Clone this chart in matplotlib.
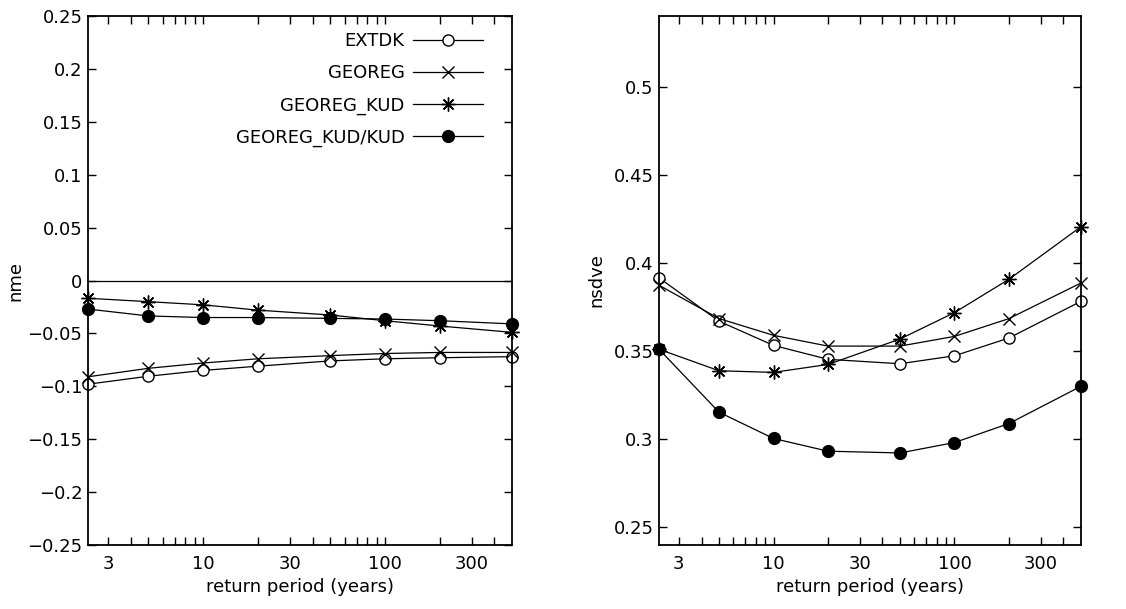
import numpy as np
import matplotlib
matplotlib.use('Agg')
import matplotlib.pyplot as plt
from matplotlib.ticker import FixedLocator, FixedFormatter, NullFormatter

plt.rcParams['font.family'] = ['DejaVu Sans']
plt.rcParams['font.size'] = 13

# Периоды повторяемости (годы)
T = [2.33, 5, 10, 20, 50, 100, 200, 500]

# nme (левая панель)
nme_extdk = [-0.098, -0.0905, -0.085, -0.081, -0.076, -0.074, -0.073, -0.072]
nme_georeg = [-0.091, -0.083, -0.078, -0.074, -0.071, -0.069, -0.068, -0.068]
nme_georeg_kud = [-0.0168, -0.020, -0.023, -0.028, -0.0326, -0.038, -0.043, -0.049]
nme_georeg_kud_kud = [-0.027, -0.0335, -0.035, -0.035, -0.0358, -0.0364, -0.038, -0.041]

# nsdve (правая панель)
nsdve_extdk = [0.3915, 0.3669, 0.3532, 0.3453, 0.3428, 0.3473, 0.3574, 0.3782]
nsdve_georeg = [0.3873, 0.3684, 0.3589, 0.3528, 0.3528, 0.3583, 0.3684, 0.3886]
nsdve_georeg_kud = [0.351, 0.3388, 0.3379, 0.3424, 0.3568, 0.3718, 0.3907, 0.4205]
nsdve_georeg_kud_kud = [0.351, 0.3153, 0.3004, 0.2932, 0.2922, 0.2981, 0.3089, 0.330]

labels = ['EXTDK', 'GEOREG', 'GEOREG_KUD', 'GEOREG_KUD/KUD']
styles = [
    dict(marker='o', markerfacecolor='white', markersize=8, markeredgewidth=1.0),
    dict(marker='x', markersize=8, markeredgewidth=1.0),
    dict(marker=(8, 2, 0), markersize=10, markeredgewidth=1.0),
    dict(marker='o', markerfacecolor='black', markersize=8.5),
]

xticks_major = [3, 10, 30, 100, 300]
xticks_minor = [4, 5, 6, 7, 8, 9, 20, 40, 50, 60, 70, 80, 90, 200, 400]

fig = plt.figure(figsize=(11.26, 6.09), dpi=100)
ax1 = fig.add_axes([0.0782, 0.1051, 0.3765, 0.8686])
ax2 = fig.add_axes([0.5853, 0.1051, 0.3747, 0.8686])


def setup_axes(ax):
    ax.set_xscale('log')
    ax.set_xlim(2.33, 500)
    ax.xaxis.set_major_locator(FixedLocator(xticks_major))
    ax.xaxis.set_major_formatter(FixedFormatter([str(v) for v in xticks_major]))
    ax.xaxis.set_minor_locator(FixedLocator(xticks_minor))
    ax.xaxis.set_minor_formatter(NullFormatter())
    ax.tick_params(which='both', direction='in', top=True, right=True,
                   length=6, width=1.0, labelsize=13)
    ax.tick_params(axis='y', pad=4)
    ax.tick_params(axis='x', pad=7)
    for sp in ax.spines.values():
        sp.set_linewidth(1.3)
    ax.set_xlabel('return period (years)', fontsize=13, labelpad=4)


series1 = [nme_extdk, nme_georeg, nme_georeg_kud, nme_georeg_kud_kud]
series2 = [nsdve_extdk, nsdve_georeg, nsdve_georeg_kud, nsdve_georeg_kud_kud]

for vals, lab, st in zip(series1, labels, styles):
    ax1.plot(T, vals, color='black', linewidth=0.9, label=lab, clip_on=False,
             markeredgecolor='black', **st)
for vals, st in zip(series2, styles):
    ax2.plot(T, vals, color='black', linewidth=0.9, clip_on=False,
             markeredgecolor='black', **st)

ax1.axhline(0, color='black', linewidth=0.9)

setup_axes(ax1)
ax1.set_ylim(-0.25, 0.25)
ax1.set_yticks([-0.25, -0.2, -0.15, -0.1, -0.05, 0, 0.05, 0.1, 0.15, 0.2, 0.25])
ax1.set_yticklabels(['\u22120.25', '\u22120.2', '\u22120.15', '\u22120.1', '\u22120.05', '0',
                     '0.05', '0.1', '0.15', '0.2', '0.25'])
ax1.set_ylabel('nme', fontsize=13, labelpad=2)

setup_axes(ax2)
ax2.set_ylim(0.24, 0.54)
ax2.set_yticks([0.25, 0.3, 0.35, 0.4, 0.45, 0.5])
ax2.set_yticklabels(['0.25', '0.3', '0.35', '0.4', '0.45', '0.5'])
ax2.set_ylabel('nsdve', fontsize=13, labelpad=6)

ax1.legend(loc='upper right', frameon=False, markerfirst=False, fontsize=13,
           handlelength=3.9, handletextpad=0.45, labelspacing=0.78,
           borderaxespad=0.2, bbox_to_anchor=(0.957, 0.99))

fig.savefig('out.png', dpi=100)
